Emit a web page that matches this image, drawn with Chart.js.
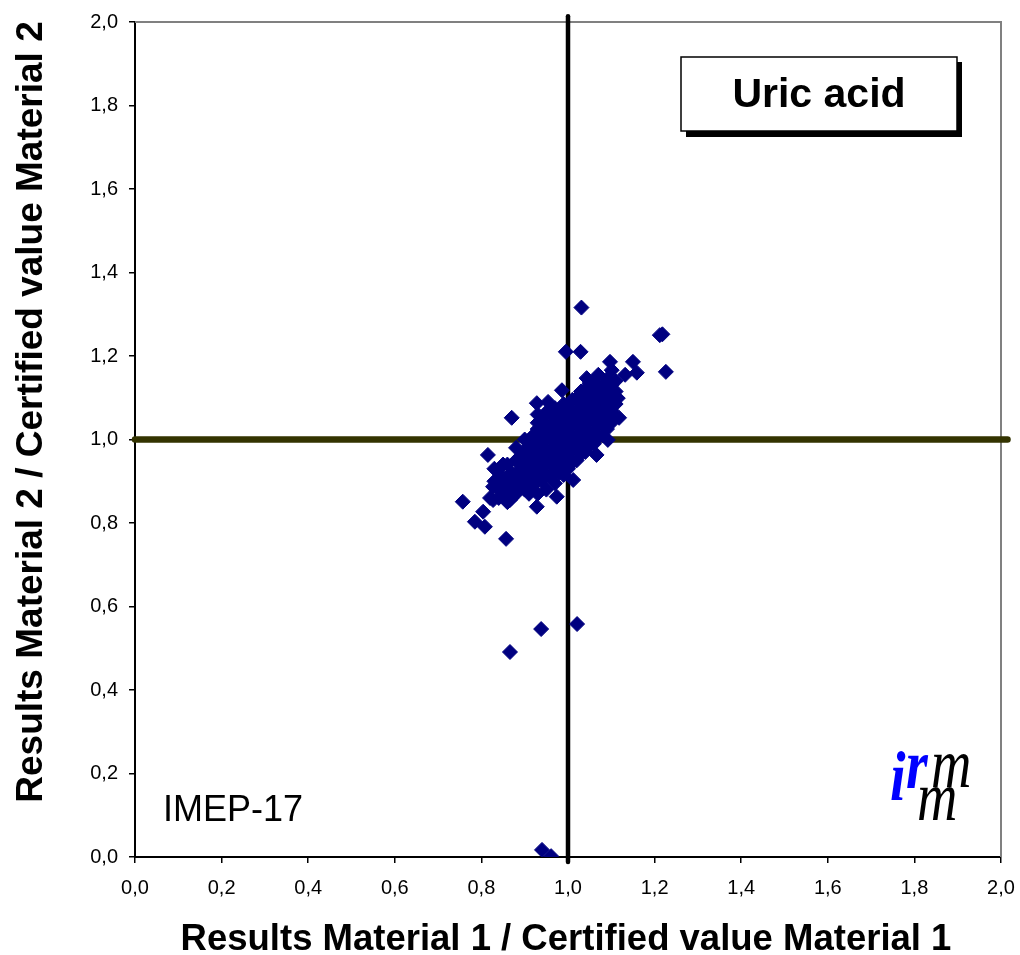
<!DOCTYPE html>
<html lang="en">
<head>
  <meta charset="UTF-8" />
  <title>Uric acid - IMEP-17</title>
  <script src="https://cdn.jsdelivr.net/npm/chart.js"></script>
  <style>
    html, body { margin: 0; padding: 0; background: #fff; }
    #wrap { width: 1020px; height: 955px; }
  </style>
</head>
<body>
  <div id="wrap"><canvas id="uricChart" width="1020" height="955"></canvas></div>

  <script>
    // result / certified value, one pair per laboratory
    const material1 = [
      1.031, 0.995, 1.029, 1.212, 1.218, 1.226, 1.097, 1.150, 1.159, 1.132,
      1.101, 1.043, 0.986, 1.115, 1.118, 0.870, 0.928, 0.954, 1.092, 1.066,
      1.012, 0.815, 0.838, 0.827, 0.757, 0.827, 0.866, 0.928, 0.974, 0.785,
      0.808, 0.804, 0.857, 0.866, 0.938, 1.021, 0.940, 0.961,
      0.87, 0.88, 0.88, 0.89, 0.89, 0.88,
      0.90, 0.90, 0.90, 0.91, 0.90, 0.90,
      0.92, 0.92, 0.92, 0.92, 0.93, 0.92, 0.93, 0.93,
      0.94, 0.94, 0.94, 0.94, 0.94, 0.95, 0.94,
      0.96, 0.96, 0.96, 0.96, 0.96, 0.96, 0.97,
      0.98, 0.98, 0.98, 0.98, 0.98, 0.98, 0.99,
      1.00, 1.00, 1.00, 1.00, 1.00, 1.00,
      1.02, 1.02, 1.02, 1.02, 1.02, 1.02,
      1.04, 1.04, 1.04, 1.04, 1.04, 1.04,
      1.06, 1.06, 1.06, 1.06, 1.06, 1.06,
      1.08, 1.08, 1.08, 1.08, 1.08,
      1.10, 1.10, 1.10, 1.10,
      0.85, 0.86, 0.87, 0.85, 0.86,
      0.84, 0.83, 0.84, 0.86, 0.82, 0.85, 0.87, 0.83, 0.86, 0.88,
      0.89, 0.89, 0.89,
      0.91, 0.91, 0.91, 0.91,
      0.93, 0.93, 0.93, 0.93, 0.93,
      0.95, 0.95, 0.95, 0.95, 0.95, 0.95,
      0.97, 0.97, 0.97, 0.97, 0.97, 0.97,
      0.99, 0.99, 0.99, 0.99, 0.99, 0.99,
      1.01, 1.01, 1.01, 1.01, 1.01, 1.01,
      1.03, 1.03, 1.03, 1.03, 1.03, 1.03,
      1.05, 1.05, 1.05, 1.05, 1.05, 1.05,
      1.07, 1.07, 1.07, 1.07, 1.07, 1.07,
      1.09, 1.09, 1.09, 1.09, 1.09,
      1.11, 1.11, 1.11, 1.11
    ];
    const material2 = [
      1.316, 1.210, 1.210, 1.250, 1.252, 1.162, 1.186, 1.186, 1.160, 1.155,
      1.166, 1.147, 1.118, 1.099, 1.052, 1.052, 1.087, 1.090, 0.999, 0.963,
      0.903, 0.963, 0.923, 0.887, 0.851, 0.855, 0.855, 0.839, 0.863, 0.803,
      0.791, 0.827, 0.762, 0.491, 0.546, 0.558, 0.017, 0.002,
      0.86, 0.87, 0.90, 0.93, 0.96, 0.95,
      0.88, 0.91, 0.94, 0.87, 0.97, 1.00,
      0.89, 0.92, 0.95, 0.98, 0.87, 1.01, 1.04, 1.06,
      0.90, 0.93, 0.96, 0.99, 1.02, 0.88, 1.05,
      0.91, 0.94, 0.97, 1.00, 1.03, 1.06, 0.895,
      0.92, 0.95, 0.98, 1.01, 1.04, 1.07, 0.915,
      0.93, 0.96, 0.99, 1.02, 1.05, 1.08,
      0.95, 0.98, 1.01, 1.04, 1.07, 1.10,
      0.97, 1.00, 1.03, 1.06, 1.09, 1.12,
      0.99, 1.02, 1.05, 1.08, 1.11, 1.14,
      1.01, 1.04, 1.07, 1.10, 1.13,
      1.04, 1.07, 1.10, 1.13,
      0.90, 0.88, 0.92, 0.94, 0.91,
      0.88, 0.90, 0.86, 0.85, 0.86, 0.87, 0.89, 0.93, 0.94, 0.98,
      0.885, 0.915, 0.945,
      0.895, 0.925, 0.955, 0.985,
      0.905, 0.935, 0.965, 0.995, 1.025,
      0.915, 0.945, 0.975, 1.005, 1.035, 1.065,
      0.925, 0.955, 0.985, 1.015, 1.045, 1.075,
      0.935, 0.965, 0.995, 1.025, 1.055, 1.085,
      0.945, 0.975, 1.005, 1.035, 1.065, 1.095,
      0.965, 0.995, 1.025, 1.055, 1.085, 1.115,
      0.985, 1.015, 1.045, 1.075, 1.105, 1.135,
      1.005, 1.035, 1.065, 1.095, 1.125, 1.155,
      1.025, 1.055, 1.085, 1.115, 1.145,
      1.055, 1.085, 1.115, 1.140
    ];

    // target lines at ratio 1.0 (slightly overrunning the frame)
    const targetHX = [0, 2.015];
    const targetHY = [1, 1];
    const targetVX = [1, 1];
    const targetVY = [-0.012, 2.014];

    const ARIAL = 'Arial, "Liberation Sans", sans-serif';
    const fmt = v => Number(v).toFixed(1).replace('.', ',');
    const pairs = (xs, ys) => xs.map((x, i) => ({ x: x, y: ys[i] }));

    const decorations = {
      id: 'decorations',
      beforeDatasetsDraw(chart) {
        const { ctx, chartArea: a } = chart;
        ctx.save();
        ctx.strokeStyle = '#808080';
        ctx.lineWidth = 2;
        ctx.beginPath();
        ctx.moveTo(a.left, a.top);
        ctx.lineTo(a.right, a.top);
        ctx.lineTo(a.right, a.bottom);
        ctx.stroke();
        ctx.restore();
      },
      afterDraw(chart) {
        const ctx = chart.ctx;
        ctx.save();

        // name box with drop shadow
        ctx.fillStyle = '#000';
        ctx.fillRect(686, 62, 276, 75);
        ctx.fillStyle = '#fff';
        ctx.fillRect(681, 57, 276, 74);
        ctx.strokeStyle = '#000';
        ctx.lineWidth = 1.5;
        ctx.strokeRect(681, 57, 276, 74);
        ctx.fillStyle = '#000';
        ctx.font = 'bold 41px ' + ARIAL;
        ctx.textAlign = 'center';
        ctx.textBaseline = 'alphabetic';
        ctx.fillText('Uric acid', 819, 107);

        ctx.textAlign = 'left';
        ctx.font = '36px ' + ARIAL;
        ctx.fillText('IMEP-17', 163, 821);

        // axis titles
        ctx.textAlign = 'center';
        ctx.font = 'bold 36.5px ' + ARIAL;
        ctx.fillText('Results Material 1 / Certified value Material 1', 566, 950);
        ctx.save();
        ctx.translate(42, 412);
        ctx.rotate(-Math.PI / 2);
        ctx.font = 'bold 37px ' + ARIAL;
        ctx.fillText('Results Material 2 / Certified value Material 2', 0, 0);
        ctx.restore();

        // irmm logo
        ctx.textAlign = 'left';
        const glyph = (t, x, y, color, weight) => {
          ctx.save();
          ctx.translate(x, y);
          ctx.scale(0.8, 1);
          ctx.font = 'italic ' + weight + ' 70px "Liberation Serif", "DejaVu Serif", serif';
          ctx.fillStyle = color;
          ctx.fillText(t, 0, 0);
          ctx.restore();
        };
        glyph('i', 890, 800, '#0000ff', 'bold');
        glyph('r', 906, 788, '#0000ff', 'bold');
        glyph('m', 931, 787, '#000', 'normal');
        glyph('m', 917, 820, '#000', 'normal');

        ctx.restore();
      }
    };

    new Chart(document.getElementById('uricChart'), {
      type: 'scatter',
      data: {
        datasets: [
          {
            data: pairs(material1, material2),
            pointStyle: 'rectRot',
            pointRadius: 7.5,
            pointHoverRadius: 7.5,
            backgroundColor: '#000080',
            borderColor: '#000080',
            borderWidth: 1
          },
          {
            data: pairs(targetVX, targetVY),
            showLine: true,
            pointRadius: 0,
            borderColor: '#000',
            borderWidth: 4.5,
            borderCapStyle: 'round',
            clip: false
          },
          {
            data: pairs(targetHX, targetHY),
            showLine: true,
            pointRadius: 0,
            borderColor: '#333300',
            borderWidth: 6.5,
            borderCapStyle: 'round',
            clip: false
          }
        ]
      },
      options: {
        responsive: false,
        animation: false,
        events: [],
        layout: { padding: { left: 0, top: 22, right: 19, bottom: 0 } },
        plugins: { legend: { display: false }, tooltip: { enabled: false } },
        scales: {
          x: {
            min: 0, max: 2,
            afterFit: s => { s.height = 98; s.paddingLeft = 14; s.paddingRight = 14; },
            border: { color: '#000', width: 2 },
            grid: { drawOnChartArea: false, drawTicks: true, tickLength: 6, color: '#000', lineWidth: 1.5 },
            ticks: { stepSize: 0.2, padding: 13, color: '#000', font: { family: ARIAL, size: 20 }, callback: fmt, maxRotation: 0 }
          },
          y: {
            min: 0, max: 2,
            afterFit: s => { s.width = 135; s.paddingTop = 12; s.paddingBottom = 12; },
            border: { color: '#000', width: 2 },
            grid: { drawOnChartArea: false, drawTicks: true, tickLength: 6, color: '#000', lineWidth: 1.5 },
            ticks: { stepSize: 0.2, padding: 11, color: '#000', font: { family: ARIAL, size: 20 }, callback: fmt }
          }
        }
      },
      plugins: [decorations]
    });
  </script>
</body>
</html>
